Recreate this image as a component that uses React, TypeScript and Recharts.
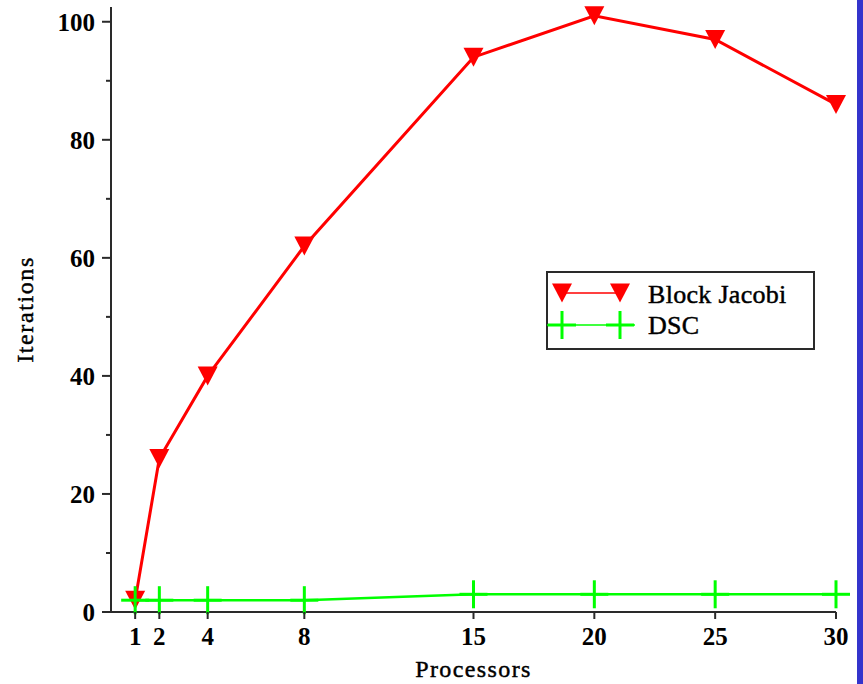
import React from 'react'
import { LineChart, Line, XAxis, YAxis, Legend } from 'recharts'

const processors = [1, 2, 4, 8, 15, 20, 25, 30]
const blockJacobi = [2, 26, 40, 62, 94, 101, 97, 86]
const dsc = [2, 2, 2, 2, 3, 3, 3, 3]
const yTicks = [0, 10, 20, 30, 40, 50, 60, 70, 80, 90, 100]
const yLabelled = [0, 20, 40, 60, 80, 100]

const RED = '#ff0000'
const GREEN = '#00ff00'
const AXIS = '#2a2a2a'
const FONT = '"Liberation Serif", "Times New Roman", serif'

const data = processors.map((p, i) => ({ p, jacobi: blockJacobi[i], dsc: dsc[i] }))

// plain-weight text, thickened a touch so it sits with the bold tick numbers
const textStyle = { fontFamily: FONT, fill: '#000', stroke: '#000', strokeWidth: 0.45 }

function Tri({ cx, cy }: { cx: number; cy: number }) {
  return <path d={`M${cx - 10},${cy - 9.5}L${cx + 10},${cy - 9.5}L${cx},${cy + 9.5}Z`} fill={RED} />
}

function Plus({ cx, cy }: { cx: number; cy: number }) {
  return (
    <g stroke={GREEN} strokeWidth={3}>
      <line x1={cx - 14} y1={cy} x2={cx + 14} y2={cy} />
      <line x1={cx} y1={cy - 14} x2={cx} y2={cy + 14} />
    </g>
  )
}

function YTick({ x, y, payload }: any) {
  const major = yLabelled.includes(payload.value)
  return (
    <g>
      <line x1={x - (major ? 9 : 5)} y1={y} x2={x} y2={y} stroke={AXIS} strokeWidth={2} />
      {major && (
        <text x={x - 16} y={y + 9} textAnchor="end" fontFamily={FONT} fontWeight="bold" fontSize={25} fill="#000">
          {payload.value}
        </text>
      )}
    </g>
  )
}

function XTick({ x, y, payload }: any) {
  return (
    <g>
      <line x1={x} y1={y} x2={x} y2={y + 7} stroke={AXIS} strokeWidth={2} />
      <text x={x} y={y + 33} textAnchor="middle" fontFamily={FONT} fontWeight="bold" fontSize={25} fill="#000">
        {payload.value}
      </text>
    </g>
  )
}

function LegendBox() {
  return (
    <svg width={269} height={79} style={{ display: 'block' }}>
      <rect x={1} y={1} width={267} height={77} fill="#fff" stroke={AXIS} strokeWidth={2} />
      <line x1={16} y1={22} x2={74} y2={22} stroke={RED} strokeWidth={1.5} />
      <Tri cx={16} cy={22} />
      <Tri cx={74} cy={22} />
      <line x1={1} y1={54} x2={89} y2={54} stroke={GREEN} strokeWidth={1.5} />
      <Plus cx={16} cy={54} />
      <Plus cx={74} cy={54} />
      <text x={102} y={32} fontSize={26} letterSpacing={0.3} {...textStyle}>Block Jacobi</text>
      <text x={102} y={63} fontSize={26} letterSpacing={0.3} {...textStyle}>DSC</text>
    </svg>
  )
}

export default function App() {
  return (
    <div style={{ position: 'absolute', left: 0, top: 0, width: 863, height: 684, background: '#fff' }}>
      <LineChart width={863} height={684} data={data} margin={{ top: 7, right: 27, bottom: 0, left: 0 }}>
        <XAxis
          dataKey="p"
          type="number"
          domain={[0, 30]}
          ticks={processors}
          interval={0}
          height={72}
          tickSize={0}
          tickMargin={0}
          tick={<XTick />}
          axisLine={{ stroke: AXIS, strokeWidth: 2 }}
          tickLine={false}
          label={{
            content: ({ viewBox }: any) => (
              <text
                x={viewBox.x + viewBox.width / 2}
                y={viewBox.y + 65}
                textAnchor="middle"
                fontSize={24}
                letterSpacing={1.4}
                {...textStyle}
              >
                Processors
              </text>
            ),
          }}
        />
        <YAxis
          type="number"
          domain={[0, 102.5]}
          ticks={yTicks}
          interval={0}
          width={111}
          tickSize={0}
          tickMargin={0}
          tick={<YTick />}
          axisLine={{ stroke: AXIS, strokeWidth: 2 }}
          tickLine={false}
          label={{
            content: ({ viewBox }: any) => {
              const cy = viewBox.y + viewBox.height / 2
              return (
                <text
                  x={33}
                  y={cy}
                  transform={`rotate(-90 33 ${cy})`}
                  textAnchor="middle"
                  fontSize={24}
                  letterSpacing={1.6}
                  {...textStyle}
                >
                  Iterations
                </text>
              )
            },
          }}
        />
        <Line
          dataKey="jacobi"
          type="linear"
          stroke={RED}
          strokeWidth={3}
          isAnimationActive={false}
          dot={(props: any) => <Tri key={`j${props.index}`} cx={props.cx} cy={props.cy} />}
        />
        <Line
          dataKey="dsc"
          type="linear"
          stroke={GREEN}
          strokeWidth={2.5}
          isAnimationActive={false}
          dot={(props: any) => <Plus key={`d${props.index}`} cx={props.cx} cy={props.cy} />}
        />
        <Legend
          layout="horizontal"
          align="center"
          verticalAlign="middle"
          content={() => <LegendBox />}
          wrapperStyle={{ position: 'absolute', left: 546, top: 271, width: 269, height: 79 }}
        />
      </LineChart>
      <div style={{ position: 'absolute', left: 857, top: 0, width: 6, height: 684, background: '#3434cc' }} />
    </div>
  )
}
